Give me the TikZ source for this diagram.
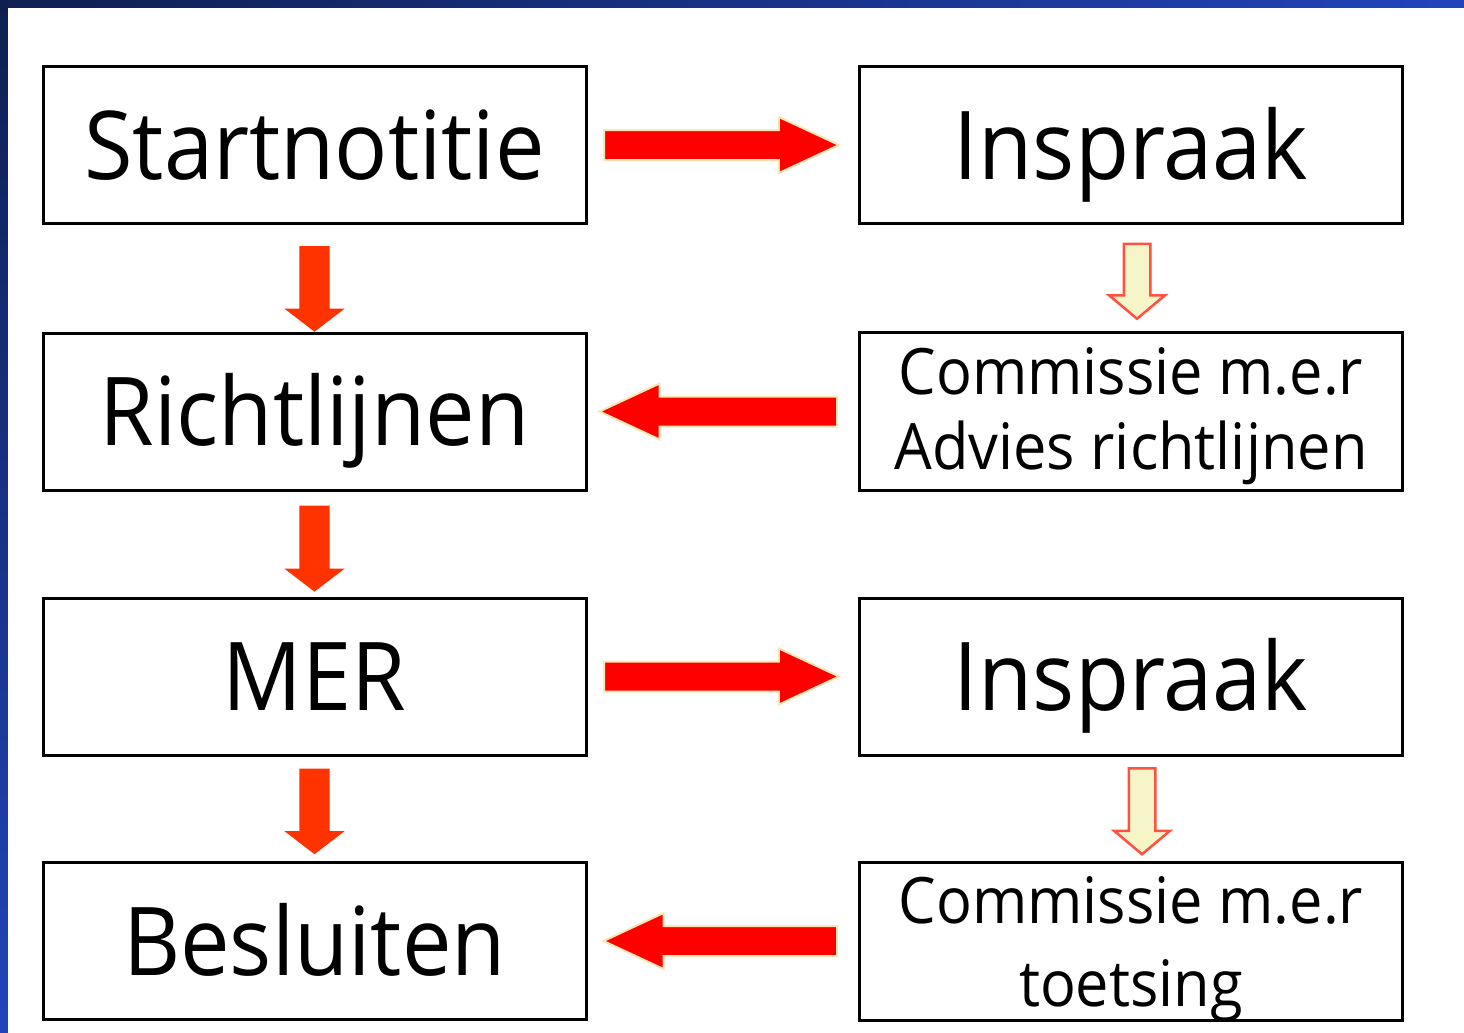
\documentclass[tikz,border=0pt]{standalone}
\usepackage{fontspec}
\setmainfont{Open Sans}[FakeStretch=0.93]
\usetikzlibrary{shapes.arrows}
\usetikzlibrary{shadings}
\usetikzlibrary{calc}
\definecolor{mnavy}{RGB}{15,31,80}
\definecolor{mblue}{RGB}{34,68,187}
\definecolor{mred}{RGB}{255,0,0}
\definecolor{morange}{RGB}{255,51,0}
\definecolor{mtan}{RGB}{248,230,180}
\definecolor{mpale}{RGB}{245,245,200}
\definecolor{mrim}{RGB}{255,80,64}
\tikzset{box/.style = {draw, line width=3pt, minimum width=543pt, minimum height=157pt,
                       inner sep=0pt, font=\fontsize{95}{100}\selectfont,
                       text height=68pt, text depth=0pt},
         twobox/.style = {draw, line width=3pt, minimum width=543pt, minimum height=158pt,
                          inner sep=0pt, align=center, font=\fontsize{64}{75}\selectfont},
         arrowbase/.style = {single arrow, anchor=tail, inner xsep=0pt,
                             single arrow head indent=0pt},
         redbar/.style = {arrowbase, draw=mtan, line width=2pt, fill=mred, inner ysep=14pt,
                          single arrow head extend=13pt, single arrow tip angle=50},
         downbar/.style = {arrowbase, fill=morange, inner ysep=15pt,
                           single arrow head extend=15pt, single arrow tip angle=105},
         palebar/.style = {arrowbase, draw=mrim, line width=2.5pt, fill=mpale, inner ysep=12pt,
                           single arrow head extend=14.5pt, single arrow tip angle=100}}
\newcommand\bararrow[3]{%
  \path let \p1 = (#2), \p2 = (#3),
            \n1 = {abs(\x2-\x1)+abs(\y2-\y1)}, \n2 = {atan2(\y2-\y1,\x2-\x1)} in
        node [#1, rotate=\n2, minimum height=\n1] at (\p1) {};}

\begin{document}
\begin{tikzpicture}[x=1pt, y=-1pt]
    \useasboundingbox (0, 0) rectangle (1464, 1033);
    \shade [upper left=mnavy, upper right=mblue, lower left=mblue, lower right=mblue] (0, 0) rectangle (1464, 1033);
    \fill [white] (8, 8) rectangle (1464, 1033);

    % left column
    \node [box] (start) at (314.5, 145) {Startnotitie};
    \node [box] (richt) at (314.5, 411.5) {Richtlijnen};
    \node [box] (mer) at (314.5, 676.5) {MER};
    \node [box] (besl) at (314.5, 941) {Besluiten};

    % right column
    \node [box] (insp1) at (1131, 145) {Inspraak};
    \node [twobox] (comm1) at (1131, 411.5) {};
    \node [box] (insp2) at (1131, 676.5) {Inspraak};
    \node [twobox] (comm2) at (1131, 941) {};
    \node [align=center, font=\fontsize{64}{75}\selectfont] (comm1text) at ($(comm1)+(0, 5)$)
          {Commissie m.e.r\\Advies richtlijnen};
    \node [align=center, font=\fontsize{64}{83}\selectfont] (comm2text) at ($(comm2)+(0, 8)$)
          {Commissie m.e.r\\toetsing};

    \bararrow{redbar}{$(start.east)+(15.5, 0)$}{$(insp1.west)+(-20, 0)$}
    \bararrow{redbar}{$(comm1.west)+(-20, 0)$}{$(richt.east)+(13, 0)$}
    \bararrow{redbar}{$(mer.east)+(15.5, 0)$}{$(insp2.west)+(-20, 0)$}
    \bararrow{redbar}{$(comm2.west)+(-20, 0)$}{$(besl.east)+(17, 0)$}

    \bararrow{downbar}{$(start.south)+(0, 21)$}{richt.north}
    \bararrow{downbar}{$(richt.south)+(0, 14)$}{$(mer.north)+(0, -5)$}
    \bararrow{downbar}{$(mer.south)+(0, 12)$}{$(besl.north)+(0, -7)$}

    \bararrow{palebar}{$(insp1.south)+(6, 17.5)$}{$(comm1.north)+(6, -13.5)$}
    \bararrow{palebar}{$(insp2.south)+(11, 10.5)$}{$(comm2.north)+(11, -7.5)$}
\end{tikzpicture}
\end{document}
